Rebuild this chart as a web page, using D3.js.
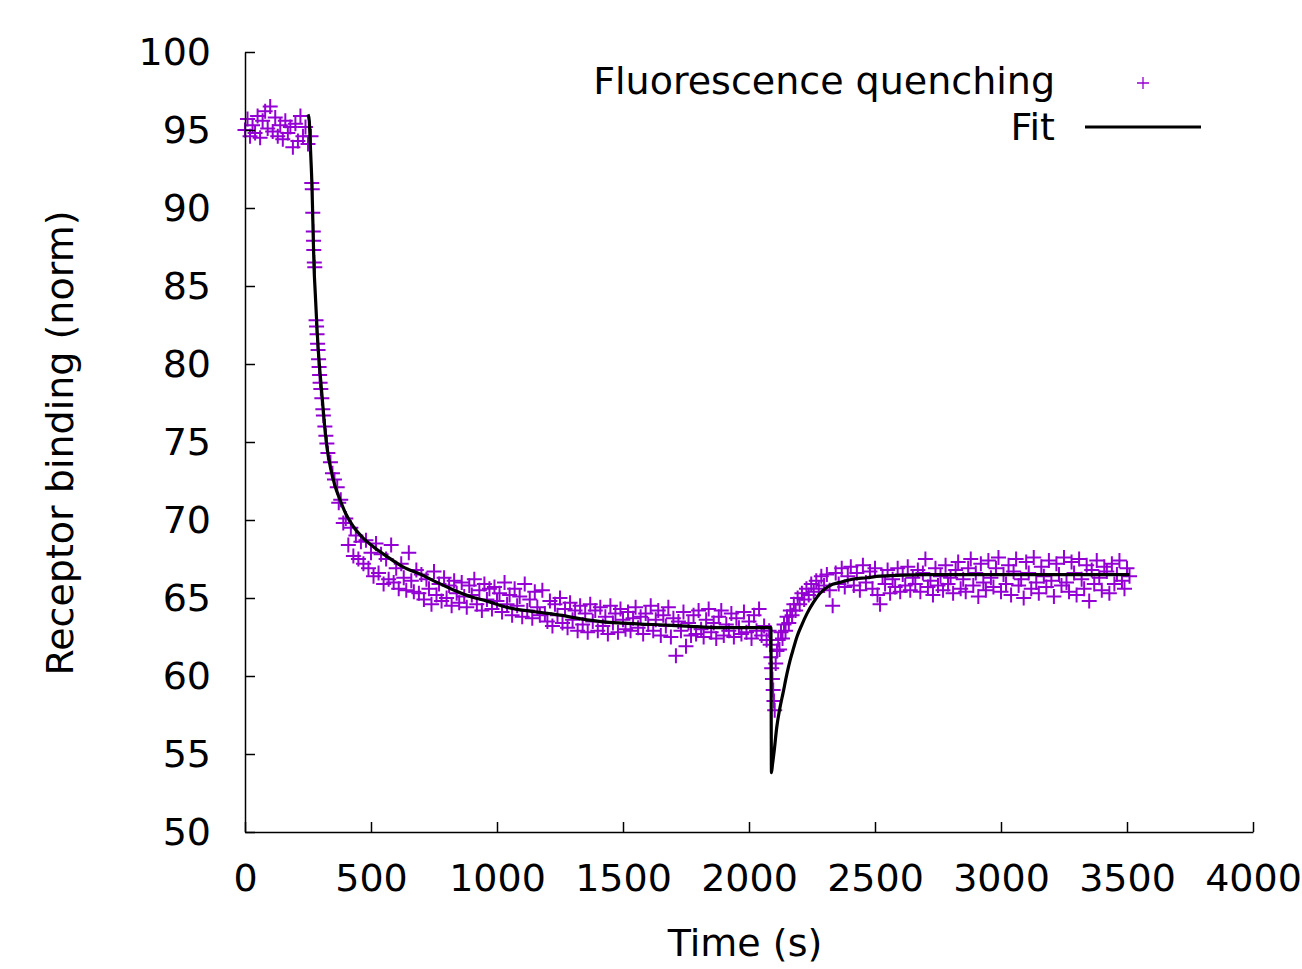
<!DOCTYPE html>
<html>
<head>
<meta charset="utf-8">
<script src="https://cdn.jsdelivr.net/npm/d3@7"></script>
<style>
  html, body { margin: 0; padding: 0; background: #fff; }
  svg text { font-family: "DejaVu Sans", Verdana, sans-serif; fill: #000; }
</style>
</head>
<body>
<div id="chart"></div>
<script>
const svgWidth = 1302;
const svgHeight = 969;
const fontSize = 38;

// sample times for the evenly sampled parts (s)
const baselineTimes = d3.range(0, 251, 10);
const decayTimes = d3.range(380, 2081, 10);
const plateauTimes = d3.range(2480, 3511, 10);

const baselineValues = [95.0, 95.7, 94.6, 95.3, 94.8, 95.9, 94.5, 95.6, 96.2, 95.1,
  96.5, 94.9, 95.8, 94.6, 95.3, 94.4, 95.6, 94.8, 95.2, 93.9,
  95.4, 94.3, 95.9, 94.6, 95.2, 94.1];

// fast drop after injection, sampled densely
const dropTimes = [262, 265, 267, 269, 271, 272, 273, 275, 277, 282, 284, 286, 288, 290, 292,
  294, 296, 298, 301, 305, 309, 311, 317, 321, 325, 329, 339, 347, 355, 366, 372];
const dropValues = [94.6, 91.6, 91.2, 89.7, 88.5, 87.9, 87.3, 86.5, 86.2, 82.8, 82.4, 81.9, 81.3, 80.9, 80.3,
  79.8, 79.3, 78.8, 78.4, 77.8, 77.1, 76.7, 76.0, 75.4, 74.9, 74.3, 73.7, 73.0, 72.6, 72.1, 71.1];

const decayValues = [
  71.3, 69.8, 70.1, 68.4, 69.5, 67.7, 69.0, 67.5, 68.6, 67.2,
  68.7, 66.9, 67.9, 66.4, 68.5, 66.6, 67.8, 65.9, 67.5, 66.2,
  68.4, 66.0, 66.9, 65.6, 67.2, 66.3, 65.5, 67.9, 66.1, 65.4,
  66.8, 65.3, 66.5, 64.9, 66.2, 65.6, 64.6, 66.7, 65.2, 65.9,
  64.8, 66.3, 65.0, 65.8, 64.5, 66.1, 65.3, 64.7, 66.0, 65.1,
  64.4, 65.8, 65.2, 66.2, 64.6, 65.5, 64.2, 65.9, 64.9, 65.6,
  64.3, 65.7, 64.8, 65.3, 64.1, 66.0, 64.6, 65.2, 63.9, 65.6,
  64.5, 65.1, 63.8, 65.9, 64.2, 64.9, 63.7, 65.4, 64.4, 63.9,
  65.5, 64.0, 63.5, 64.8, 63.2, 64.6, 63.9, 65.0, 63.4, 64.3,
  63.1, 64.7, 63.6, 64.2, 62.9, 64.5, 63.3, 64.0, 62.8, 64.6,
  63.5, 64.2, 62.9, 64.4, 63.2, 63.8, 62.7, 64.5, 63.4, 64.0,
  62.8, 64.3, 63.6, 63.0, 64.1, 62.9, 63.7, 64.4, 63.1, 63.8,
  62.7, 64.0, 63.3, 64.5, 62.9, 63.6, 64.2, 62.6, 63.9, 63.2,
  64.4, 62.5, 63.7, 61.3, 63.5, 62.9, 64.1, 61.9, 63.4, 62.6,
  63.9, 62.7, 64.2, 63.0, 62.5, 63.6, 64.3, 62.8, 63.4, 62.4,
  63.8, 64.2, 62.6, 63.3, 62.9, 64.0, 62.5, 63.7, 63.1, 62.7,
  64.1, 62.8, 63.5, 62.4, 63.9, 62.9, 64.3, 62.6, 63.2, 62.3,
  62.9];

// second injection: dip and recovery
const recoveryTimes = [2084, 2087, 2090, 2093, 2096, 2099, 2102, 2106, 2111, 2116, 2121, 2127,
  2133, 2139, 2145, 2151, 2158, 2164, 2171, 2178, 2185, 2193, 2201, 2210, 2219, 2228, 2237,
  2247, 2257, 2267, 2277, 2287, 2298, 2309, 2320, 2332, 2344, 2356, 2368, 2380, 2392, 2404,
  2416, 2428, 2440, 2452, 2464];
const recoveryValues = [62.0, 61.2, 60.5, 59.8, 59.1, 58.4, 57.8, 60.8, 61.6, 62.3, 61.7, 62.8,
  62.4, 63.3, 62.9, 63.8, 63.4, 64.2, 63.9, 64.6, 64.2, 65.0, 64.6, 65.3, 64.9, 65.6, 65.2,
  65.9, 65.4, 66.1, 65.6, 66.4, 65.8, 66.5, 65.5, 64.5, 66.6, 65.9, 66.9, 65.7, 66.4, 67.0,
  65.8, 66.6, 65.5, 67.1, 66.0];

const plateauValues = [
  66.7, 65.6, 66.9, 65.2, 64.6, 66.4, 65.9, 66.8, 65.3, 66.2,
  65.7, 66.9, 65.4, 66.5, 65.8, 67.0, 65.5, 66.3, 65.9, 66.8,
  65.4, 66.6, 67.5, 65.7, 66.1, 65.2, 66.9, 65.8, 66.4, 65.5,
  67.1, 65.9, 66.3, 65.3, 66.8, 67.3, 65.6, 66.2, 65.4, 66.9,
  67.5, 65.8, 66.6, 65.1, 67.2, 66.0, 65.5, 67.4, 66.3, 65.7,
  66.9, 67.6, 65.4, 66.5, 65.9, 67.1, 65.2, 66.7, 67.5, 65.8,
  66.2, 65.0, 67.3, 66.6, 65.6, 67.6, 66.0, 65.3, 67.0, 66.4,
  65.7, 67.4, 66.1, 65.1, 67.2, 66.5, 65.8, 67.6, 66.0, 65.4,
  67.3, 66.6, 65.2, 67.5, 66.2, 65.6, 67.1, 64.8, 66.8, 65.9,
  67.4, 66.3, 65.5, 67.0, 66.7, 65.3, 67.2, 65.9, 66.5, 67.4,
  66.1, 65.6, 66.9, 66.4];

// fitted model curve
const fitTimes = [250, 255, 258, 262, 265, 268, 271, 274, 278, 282, 286, 290, 298, 306, 315, 325,
  340, 357, 377, 400, 429, 465, 508, 560, 627, 700, 762, 830, 893, 960, 1040, 1159, 1250, 1357,
  1480, 1619, 1750, 1885, 2000, 2087, 2089, 2093, 2100, 2110, 2122, 2135, 2150, 2163, 2177,
  2190, 2210, 2230, 2255, 2282, 2320, 2361, 2410, 2468, 2520, 2700, 3000, 3300, 3510];
const fitValues = [96.0, 95.6, 94.5, 93.0, 91.8, 90.0, 88.0, 86.2, 84.8, 83.5, 82.2, 81.1, 79.4,
  77.9, 76.2, 74.7, 73.3, 72.2, 71.3, 70.4, 69.6, 68.9, 68.3, 67.7, 67.0, 66.5, 66.0, 65.5,
  65.1, 64.8, 64.4, 64.1, 63.9, 63.6, 63.4, 63.3, 63.2, 63.1, 63.1, 63.1, 53.8, 54.3, 55.2,
  56.7, 57.9, 58.9, 60.1, 61.0, 61.8, 62.5, 63.3, 64.0, 64.7, 65.3, 65.8, 66.0, 66.2, 66.3,
  66.4, 66.5, 66.5, 66.5, 66.5];

const xTicks = d3.range(0, 4001, 500);
const yTicks = d3.range(50, 101, 5);

const pointColor = '#9400d3';

const x = d3.scaleLinear().domain([0, 4000]).range([245, 1253]);
const y = d3.scaleLinear().domain([50, 100]).range([832, 52]);

const svg = d3.select('#chart')
    .append('svg')
    .attr('width', svgWidth)
    .attr('height', svgHeight);

// put all measured segments together
const points = [];
function addSegment(times, values) {
    times.forEach((t, i) => points.push({ t: t, v: values[i] }));
}
addSegment(baselineTimes, baselineValues);
addSegment(dropTimes, dropValues);
addSegment(decayTimes, decayValues);
addSegment(recoveryTimes, recoveryValues);
addSegment(plateauTimes, plateauValues);

function plusPath(cx, cy, r) {
    return `M${cx - r},${cy}H${cx + r}M${cx},${cy - r}V${cy + r}`;
}

// data points as "+"
svg.append('g')
    .attr('class', 'points')
    .selectAll('path')
    .data(points)
    .enter()
    .append('path')
    .attr('d', d => plusPath(x(d.t), y(d.v), 7.5))
    .attr('fill', 'none')
    .attr('stroke', pointColor)
    .attr('stroke-width', 2);

// fit curve
const fitData = fitTimes.map((t, i) => ({ t: t, v: fitValues[i] }));
const fitLine = d3.line()
    .x(d => x(d.t))
    .y(d => y(d.v))
    .curve(d3.curveMonotoneX);

svg.append('path')
    .datum(fitData)
    .attr('d', fitLine)
    .attr('fill', 'none')
    .attr('stroke', '#000')
    .attr('stroke-width', 3.2)
    .attr('stroke-linejoin', 'round');

// axes (ticks point inward, like gnuplot)
const xAxis = svg.append('g')
    .attr('transform', `translate(0,${y(50)})`)
    .call(d3.axisBottom(x).tickValues(xTicks).tickFormat(d3.format('d'))
        .tickSizeInner(-10).tickSizeOuter(0).tickPadding(32));

const yAxis = svg.append('g')
    .attr('transform', `translate(${x(0)},0)`)
    .call(d3.axisLeft(y).tickValues(yTicks).tickFormat(d3.format('d'))
        .tickSizeInner(-10).tickSizeOuter(0).tickPadding(34));

[xAxis, yAxis].forEach(g => {
    g.select('.domain').attr('stroke', '#000').attr('stroke-width', 1.5);
    g.selectAll('.tick line').attr('stroke', '#000').attr('stroke-width', 1.5);
    g.selectAll('.tick text')
        .attr('font-family', '"DejaVu Sans", Verdana, sans-serif')
        .attr('font-size', fontSize)
        .attr('fill', '#000');
});

// axis titles
svg.append('text')
    .attr('x', 745)
    .attr('y', 943)
    .attr('dy', '0.35em')
    .attr('text-anchor', 'middle')
    .attr('font-size', fontSize)
    .text('Time (s)');

svg.append('text')
    .attr('transform', 'translate(60,443) rotate(-90)')
    .attr('dy', '0.35em')
    .attr('text-anchor', 'middle')
    .attr('font-size', fontSize)
    .text('Receptor binding (norm)');

// legend
const legend = svg.append('g').attr('class', 'legend');

legend.append('text')
    .attr('x', 1055)
    .attr('y', 81)
    .attr('dy', '0.35em')
    .attr('text-anchor', 'end')
    .attr('font-size', fontSize)
    .text('Fluorescence quenching');

legend.append('path')
    .attr('d', plusPath(1143, 83, 6))
    .attr('fill', 'none')
    .attr('stroke', pointColor)
    .attr('stroke-width', 1.3);

legend.append('text')
    .attr('x', 1055)
    .attr('y', 127)
    .attr('dy', '0.35em')
    .attr('text-anchor', 'end')
    .attr('font-size', fontSize)
    .text('Fit');

legend.append('line')
    .attr('x1', 1085)
    .attr('x2', 1201)
    .attr('y1', 127)
    .attr('y2', 127)
    .attr('stroke', '#000')
    .attr('stroke-width', 3);
</script>
</body>
</html>
